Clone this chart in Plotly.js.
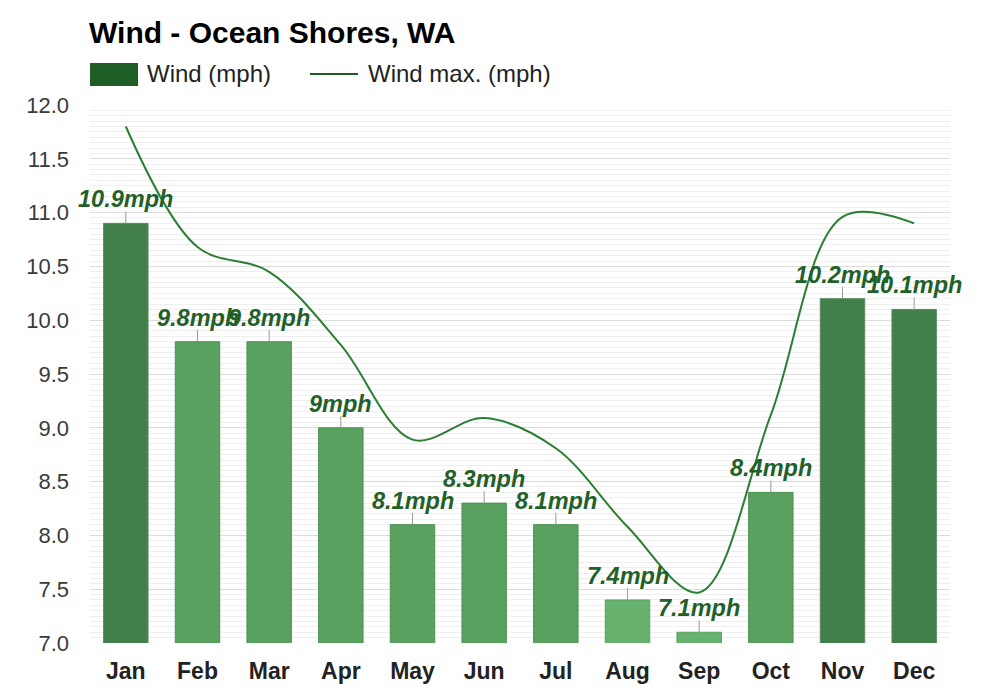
<!DOCTYPE html>
<html>
<head>
<meta charset="utf-8">
<script src="https://cdn.plot.ly/plotly-3.0.1.min.js"></script>
<style>html,body{margin:0;padding:0;background:#fff;}#chart{width:1000px;height:700px;}</style>
</head>
<body>
<div id="chart"></div>
<script>
const months = ["Jan","Feb","Mar","Apr","May","Jun","Jul","Aug","Sep","Oct","Nov","Dec"];
const windAvg = [10.9, 9.8, 9.8, 9.0, 8.1, 8.3, 8.1, 7.4, 7.1, 8.4, 10.2, 10.1];
const windMax = [11.8, 10.68, 10.45, 9.77, 8.89, 9.09, 8.81, 8.08, 7.47, 9.12, 10.96, 10.9];
const yTicks = [7.0, 7.5, 8.0, 8.5, 9.0, 9.5, 10.0, 10.5, 11.0, 11.5, 12.0];

const FONT = "Liberation Sans, Arial, sans-serif";
function barColor(v){ return v >= 10 ? "#427f4a" : (v >= 8 ? "#59a15f" : "#66b16b"); }
function barLine(v){ return v >= 10 ? "#5a8a60" : (v >= 8 ? "#4e9154" : "#57a05c"); }

const bars = {
  type: "bar",
  x: months,
  y: windAvg,
  name: "Wind (mph)",
  width: 0.62,
  marker: {color: windAvg.map(barColor), line: {color: windAvg.map(barLine), width: 1}},
  error_y: {type: "data", symmetric: false, array: windAvg.map(() => 0.11), arrayminus: windAvg.map(() => 0), width: 0, thickness: 1, color: "#999"},
  hoverinfo: "skip",
  showlegend: false
};
const line = {
  type: "scatter",
  mode: "lines",
  x: months,
  y: windMax,
  name: "Wind max. (mph)",
  line: {color: "#2a7f32", width: 2, shape: "spline", smoothing: 1},
  hoverinfo: "skip",
  showlegend: false
};

const W = 1000, H = 700, ML = 90, MR = 50, MT = 105, MB = 57;
const pw = W - ML - MR, ph = H - MT - MB;
const px = x => (x - ML) / pw;
const py = y => (H - MB - y) / ph;

const annotations = windAvg.map((v, i) => ({
  x: months[i], y: v, xref: "x", yref: "y",
  text: "<b><i>" + v + "mph</i></b>",
  showarrow: false, yanchor: "bottom", yshift: 9,
  font: {family: FONT, size: 23.5, color: "#1f6128"}
}));
annotations.push(
  {xref: "paper", yref: "paper", x: px(145), y: py(74), xanchor: "left", yanchor: "middle", showarrow: false,
   text: "Wind (mph)", font: {family: FONT, size: 24, color: "#222"}},
  {xref: "paper", yref: "paper", x: px(366), y: py(74), xanchor: "left", yanchor: "middle", showarrow: false,
   text: "Wind max. (mph)", font: {family: FONT, size: 24, color: "#222"}}
);

const shapes = [
  {type: "rect", xref: "paper", yref: "paper", x0: px(90), x1: px(138), y0: py(86), y1: py(63),
   fillcolor: "#1e5e26", line: {width: 0}},
  {type: "line", xref: "paper", yref: "paper", x0: px(310), x1: px(358), y0: py(74), y1: py(74),
   line: {color: "#1e5e26", width: 2}}
];

const layout = {
  width: W, height: H,
  margin: {l: ML, r: MR, t: MT, b: MB},
  paper_bgcolor: "#ffffff",
  plot_bgcolor: "#ffffff",
  title: {text: "<b>Wind - Ocean Shores, WA</b>", x: 89 / W, xanchor: "left", xref: "container", y: 1 - 32 / H, yanchor: "middle",
          font: {family: FONT, size: 30, color: "#000"}},
  showlegend: false,
  xaxis: {
    type: "category", range: [-0.5, 11.5], showgrid: false, zeroline: false, showline: false,
    ticks: "", tickfont: {family: FONT, size: 23, color: "#222", weight: "bold"},
    ticklabelstandoff: 12, fixedrange: true
  },
  yaxis: {
    range: [7, 12], tickvals: yTicks, ticktext: yTicks.map(v => v.toFixed(1)),
    showgrid: true, gridcolor: "#dcdcdc", gridwidth: 1, zeroline: false, showline: false,
    ticks: "", tickfont: {family: FONT, size: 22, color: "#3a3a3a"}, ticklabelstandoff: 20,
    minor: {dtick: 0.05, tick0: 7, showgrid: true, gridcolor: "#efefef", gridwidth: 1},
    fixedrange: true
  },
  annotations: annotations,
  shapes: shapes
};

Plotly.newPlot("chart", [bars, line], layout, {displayModeBar: false, staticPlot: true});
</script>
</body>
</html>
